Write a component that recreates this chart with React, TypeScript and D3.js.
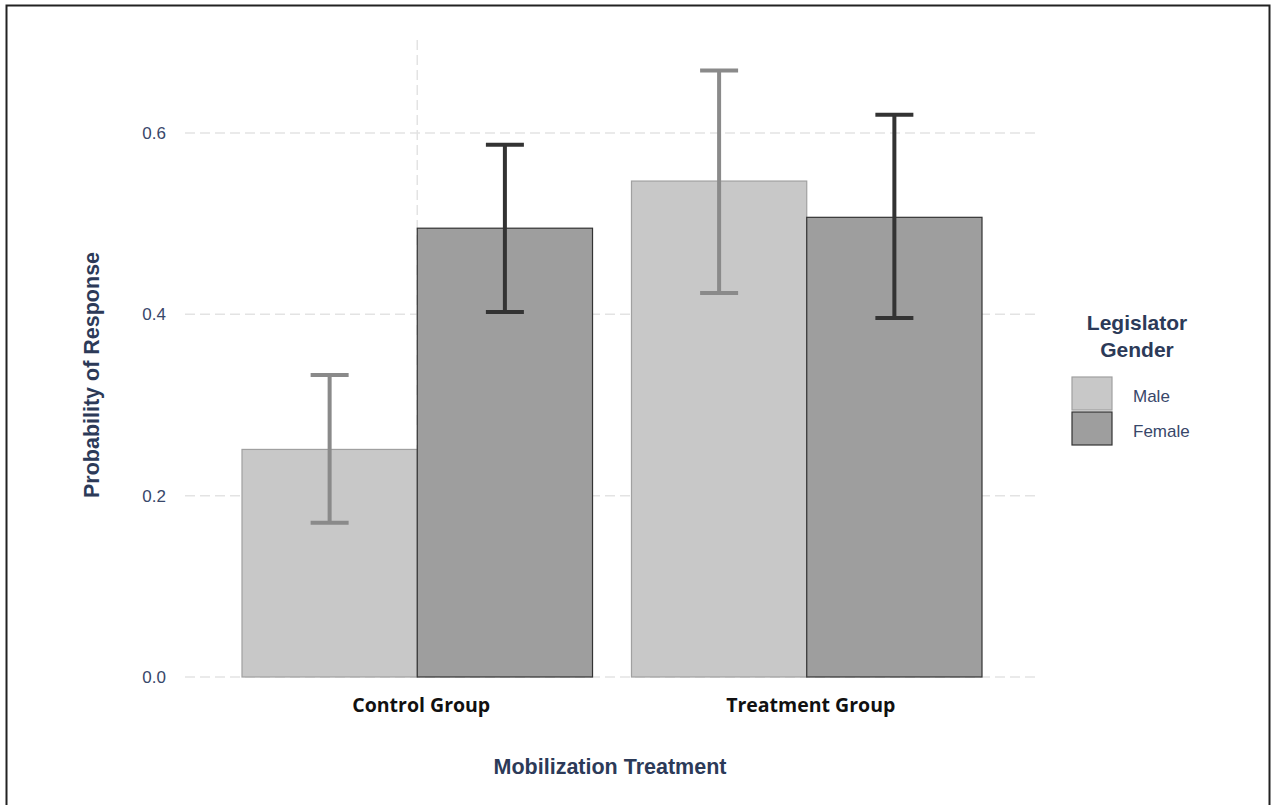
import React, { useRef, useEffect } from 'react';
import * as d3 from 'd3';

const groups = ['Control Group', 'Treatment Group'];
const genders = ['Male', 'Female'];
const probMale = [0.251, 0.547];
const probFemale = [0.495, 0.507];
const lowerMale = [0.17, 0.4235];
const upperMale = [0.333, 0.669];
const lowerFemale = [0.4025, 0.396];
const upperFemale = [0.587, 0.62];
const yTicks = [0, 0.2, 0.4, 0.6];

const App = () => {
  const chartRef = useRef<SVGSVGElement>(null);

  useEffect(() => {
    const chartDOM = chartRef.current;
    if (!chartDOM) return;
    renderChart(chartDOM);
  }, []);

  const renderChart = (chartDOM: SVGSVGElement) => {
    const svg = d3.select(chartDOM);
    svg.selectAll('*').remove();

    const navy = '#2c3a58';
    const sans = 'Liberation Sans, Arial, sans-serif';

    // frame round the picture
    svg
      .append('rect')
      .attr('x', 6.5)
      .attr('y', 5.5)
      .attr('width', 1263)
      .attr('height', 820)
      .attr('fill', '#fff')
      .attr('stroke', '#222')
      .attr('stroke-width', 2);

    const x = d3.scaleBand().domain(groups).range([242, 982]).paddingInner(0.1).paddingOuter(0);
    const xg = d3.scaleBand().domain(genders).range([0, x.bandwidth()]);
    const y = d3.scaleLinear().domain([0, 0.6]).range([677, 133]);

    const rows = groups.map((g, i) => [
      { group: g, gender: 'Male', value: probMale[i], lo: lowerMale[i], hi: upperMale[i] },
      { group: g, gender: 'Female', value: probFemale[i], lo: lowerFemale[i], hi: upperFemale[i] },
    ]).flat();

    // grid
    svg
      .append('g')
      .selectAll('line')
      .data(yTicks)
      .enter()
      .append('line')
      .attr('x1', 185)
      .attr('x2', 1040)
      .attr('y1', d => y(d))
      .attr('y2', d => y(d))
      .attr('stroke', '#e3e3e3')
      .attr('stroke-width', 1.5)
      .attr('stroke-dasharray', '10,5');

    svg
      .append('line')
      .attr('x1', (x(groups[0]) as number) + x.bandwidth() / 2)
      .attr('x2', (x(groups[0]) as number) + x.bandwidth() / 2)
      .attr('y1', 40)
      .attr('y2', 677)
      .attr('stroke', '#e3e3e3')
      .attr('stroke-width', 1.5)
      .attr('stroke-dasharray', '10,5');

    // bars
    svg
      .append('g')
      .selectAll('rect')
      .data(rows)
      .enter()
      .append('rect')
      .attr('x', d => (x(d.group) as number) + (xg(d.gender) as number))
      .attr('y', d => y(d.value))
      .attr('width', xg.bandwidth())
      .attr('height', d => y(0) - y(d.value))
      .attr('fill', d => (d.gender === 'Male' ? '#c8c8c8' : '#9e9e9e'))
      .attr('stroke', d => (d.gender === 'Male' ? '#a0a0a0' : '#333'))
      .attr('stroke-width', 1.2);

    // error bars
    const eb = svg
      .append('g')
      .selectAll('g')
      .data(rows)
      .enter()
      .append('g')
      .attr('stroke', d => (d.gender === 'Male' ? '#8a8a8a' : '#333'))
      .attr('stroke-width', 4)
      .attr('transform', d => 'translate(' + ((x(d.group) as number) + (xg(d.gender) as number) + xg.bandwidth() / 2) + ',0)');
    eb.append('line').attr('x1', 0).attr('x2', 0).attr('y1', d => y(d.lo)).attr('y2', d => y(d.hi));
    eb.append('line').attr('x1', -19).attr('x2', 19).attr('y1', d => y(d.lo)).attr('y2', d => y(d.lo));
    eb.append('line').attr('x1', -19).attr('x2', 19).attr('y1', d => y(d.hi)).attr('y2', d => y(d.hi));

    // y tick labels
    svg
      .append('g')
      .selectAll('text')
      .data(yTicks)
      .enter()
      .append('text')
      .attr('x', 166)
      .attr('y', d => y(d))
      .attr('dy', '0.35em')
      .attr('text-anchor', 'end')
      .attr('font-family', sans)
      .attr('font-size', 17)
      .attr('fill', '#38476a')
      .text(d => d3.format('.1f')(d));

    // x tick labels
    svg
      .append('g')
      .selectAll('text')
      .data(groups)
      .enter()
      .append('text')
      .attr('x', d => (x(d) as number) + x.bandwidth() / 2 + 4)
      .attr('y', 712)
      .attr('text-anchor', 'middle')
      .attr('font-family', 'Open Sans, sans-serif')
      .attr('font-weight', 'bold')
      .attr('font-size', 19.5)
      .attr('fill', '#111')
      .text(d => d);

    svg
      .append('text')
      .attr('x', 610)
      .attr('y', 774)
      .attr('text-anchor', 'middle')
      .attr('font-family', sans)
      .attr('font-weight', 'bold')
      .attr('font-size', 21.5)
      .attr('fill', navy)
      .text('Mobilization Treatment');

    svg
      .append('text')
      .attr('transform', 'translate(99,375) rotate(-90)')
      .attr('text-anchor', 'middle')
      .attr('font-family', sans)
      .attr('font-weight', 'bold')
      .attr('font-size', 21.5)
      .attr('fill', navy)
      .text('Probability of Response');

    // legend
    const legend = svg.append('g');
    ['Legislator', 'Gender'].forEach((t, i) => {
      legend
        .append('text')
        .attr('x', 1137)
        .attr('y', 330 + i * 27)
        .attr('text-anchor', 'middle')
        .attr('font-family', sans)
        .attr('font-weight', 'bold')
        .attr('font-size', 21)
        .attr('fill', navy)
        .text(t);
    });

    const items = legend
      .selectAll('g.item')
      .data(genders)
      .enter()
      .append('g')
      .attr('class', 'item')
      .attr('transform', (d, i) => 'translate(1072,' + (377 + i * 35) + ')');
    items
      .append('rect')
      .attr('width', 40)
      .attr('height', 33)
      .attr('fill', d => (d === 'Male' ? '#c8c8c8' : '#9e9e9e'))
      .attr('stroke', d => (d === 'Male' ? '#a0a0a0' : '#333'))
      .attr('stroke-width', 1.2);
    items
      .append('text')
      .attr('x', 61)
      .attr('y', 19)
      .attr('dy', '0.35em')
      .attr('font-family', sans)
      .attr('font-size', 17)
      .attr('fill', '#38476a')
      .text(d => d);
  };

  return (
    <svg
      ref={chartRef}
      width="1273"
      height="805"
      style={{ position: 'absolute', left: 0, top: 0, display: 'block' }}
    />
  );
};

export default App;
